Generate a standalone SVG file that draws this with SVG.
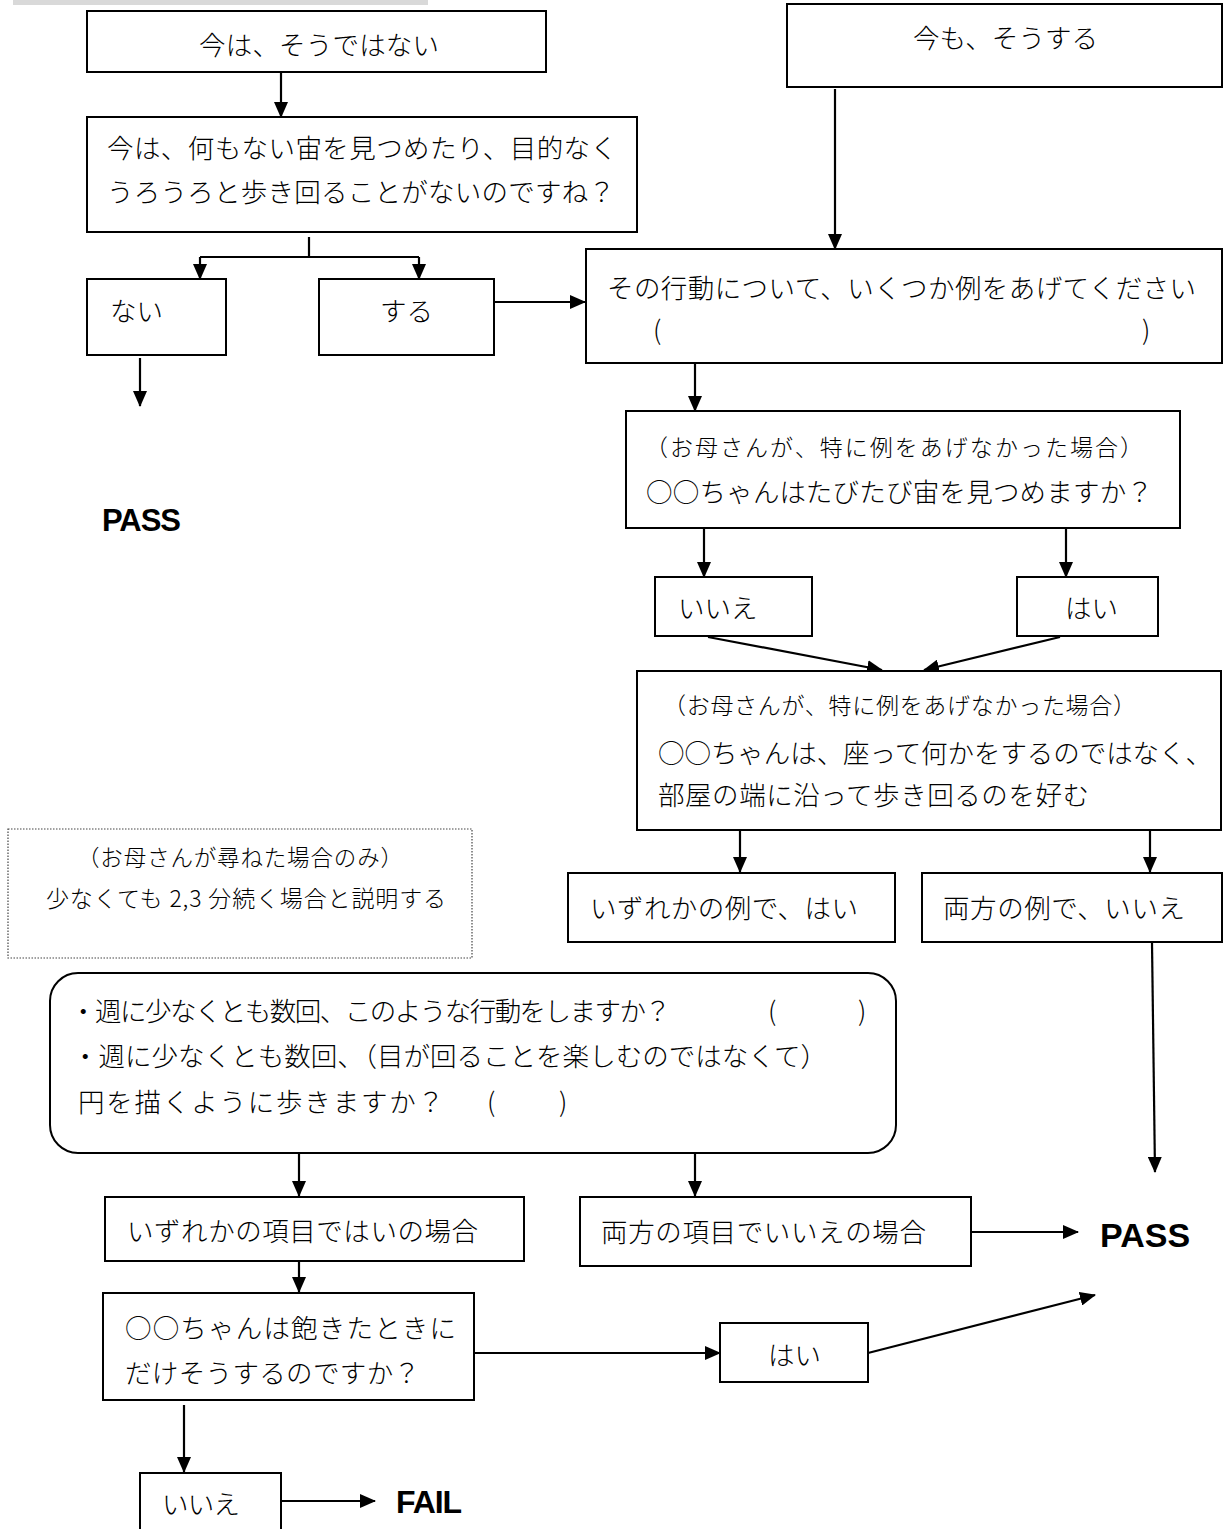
<svg xmlns="http://www.w3.org/2000/svg" width="1224" height="1529" viewBox="0 0 1224 1529">
<style>
  .box { fill: #fff; stroke: #000; stroke-width: 2; }
  .dot { fill: #fff; stroke: #444; stroke-width: 1.2; stroke-dasharray: 1.5 1.5; }
  .jp { font-family: "Noto Sans CJK JP", "Liberation Serif", sans-serif; font-size: 26.5px; fill: #000; font-weight: 300; }
  .sm { font-size: 23px; }
  .note1 { font-size: 22.5px; }
  .note2 { font-size: 23px; }
  .res { font-family: "Liberation Sans", Arial, sans-serif; font-weight: bold; fill: #000; }
  .ln { stroke: #000; stroke-width: 2.2; fill: none; }
  .ar { stroke: #000; stroke-width: 2.2; fill: none; marker-end: url(#ah); }
</style>
<defs>
  <marker id="ah" markerUnits="userSpaceOnUse" markerWidth="16" markerHeight="14" refX="15" refY="7" orient="auto">
    <path d="M0,0 L16,7 L0,14 Z" fill="#000"/>
  </marker>
</defs>
<rect width="1224" height="1529" fill="#fff"/>
<rect x="13" y="0" width="415" height="5" fill="#d9d9d9"/>

<g id="connectors">
  <line class="ar" x1="281" y1="73" x2="281" y2="117"/>
  <polyline class="ln" points="309,237 309,257"/>
  <polyline class="ln" points="200,257 419,257"/>
  <line class="ar" x1="200" y1="257" x2="200" y2="279"/>
  <line class="ar" x1="419" y1="257" x2="419" y2="279"/>
  <line class="ar" x1="494" y1="302" x2="585" y2="302"/>
  <line class="ar" x1="140" y1="358" x2="140" y2="406"/>
  <line class="ar" x1="835" y1="89" x2="835" y2="249"/>
  <line class="ar" x1="695" y1="364" x2="695" y2="411"/>
  <line class="ar" x1="704" y1="529" x2="704" y2="577"/>
  <line class="ar" x1="1066" y1="529" x2="1066" y2="577"/>
  <line class="ar" x1="708" y1="637" x2="882" y2="670"/>
  <line class="ar" x1="1060" y1="637" x2="924" y2="670"/>
  <line class="ar" x1="740" y1="831" x2="740" y2="872"/>
  <line class="ar" x1="1150" y1="831" x2="1150" y2="872"/>
  <line class="ar" x1="1152" y1="943" x2="1155" y2="1172"/>
  <line class="ar" x1="299" y1="1154" x2="299" y2="1196"/>
  <line class="ar" x1="695" y1="1154" x2="695" y2="1196"/>
  <line class="ar" x1="971" y1="1232" x2="1078" y2="1232"/>
  <line class="ar" x1="299" y1="1262" x2="299" y2="1292"/>
  <line class="ar" x1="474" y1="1353" x2="720" y2="1353"/>
  <line class="ar" x1="868" y1="1353" x2="1095" y2="1295"/>
  <line class="ar" x1="184" y1="1405" x2="184" y2="1472"/>
  <line class="ar" x1="281" y1="1501" x2="375" y2="1501"/>
</g>

<g id="n_not_now">
  <rect class="box" x="87" y="11" width="459" height="61"/>
  <text class="jp" x="199" y="55" textLength="240">今は、そうではない</text>
</g>
<g id="n_confirm">
  <rect class="box" x="87" y="117" width="550" height="115"/>
  <text class="jp" x="107" y="158" textLength="510">今は、何もない宙を見つめたり、目的なく</text>
  <text class="jp" x="107" y="202" textLength="508">うろうろと歩き回ることがないのですね？</text>
</g>
<g id="n_nai">
  <rect class="box" x="87" y="279" width="139" height="76"/>
  <text class="jp" x="110" y="321">ない</text>
</g>
<g id="n_suru">
  <rect class="box" x="319" y="279" width="175" height="76"/>
  <text class="jp" x="380" y="321">する</text>
</g>
<g id="pass_left">
  <text class="res" x="102" y="531" font-size="31" textLength="79">PASS</text>
</g>
<g id="n_still">
  <rect class="box" x="787" y="4" width="435" height="83"/>
  <text class="jp" x="913" y="48" textLength="185">今も、そうする</text>
</g>
<g id="n_examples">
  <rect class="box" x="586" y="249" width="636" height="114"/>
  <text class="jp" x="607" y="298" textLength="589">その行動について、いくつか例をあげてください</text>
  <text class="jp" x="653" y="340">(</text>
  <text class="jp" x="1142" y="340">)</text>
</g>
<g id="n_q_stare">
  <rect class="box" x="626" y="411" width="554" height="117"/>
  <text class="jp sm" x="645" y="456" textLength="498">（お母さんが、特に例をあげなかった場合）</text>
  <text class="jp" x="646" y="502" textLength="507">○○ちゃんはたびたび宙を見つめますか？</text>
</g>
<g id="n_iie1">
  <rect class="box" x="655" y="577" width="157" height="59"/>
  <text class="jp" x="678" y="618">いいえ</text>
</g>
<g id="n_hai1">
  <rect class="box" x="1017" y="577" width="141" height="59"/>
  <text class="jp" x="1065" y="618">はい</text>
</g>
<g id="n_q_walk">
  <rect class="box" x="637" y="671" width="584" height="159"/>
  <text class="jp sm" x="663" y="714" textLength="473">（お母さんが、特に例をあげなかった場合）</text>
  <text class="jp" x="658" y="763" textLength="554">○○ちゃんは、座って何かをするのではなく、</text>
  <text class="jp" x="658" y="805" textLength="431">部屋の端に沿って歩き回るのを好む</text>
</g>
<g id="n_any_yes">
  <rect class="box" x="568" y="873" width="327" height="69"/>
  <text class="jp" x="590" y="918" textLength="268">いずれかの例で、はい</text>
</g>
<g id="n_both_no">
  <rect class="box" x="922" y="873" width="300" height="69"/>
  <text class="jp" x="943" y="918" textLength="242">両方の例で、いいえ</text>
</g>
<g id="n_note">
  <rect class="dot" x="8" y="829" width="464" height="129"/>
  <text class="jp note1" x="77" y="866" textLength="326">（お母さんが尋ねた場合のみ）</text>
  <text class="jp note2" x="46" y="907" textLength="400">少なくても 2,3 分続く場合と説明する</text>
</g>
<g id="n_weekly">
  <rect class="box" x="50" y="973" width="846" height="180" rx="28" ry="28"/>
  <text class="jp" x="70" y="1021" textLength="601">・週に少なくとも数回、このような行動をしますか？</text>
  <text class="jp" x="768" y="1021">(</text>
  <text class="jp" x="858" y="1021">)</text>
  <text class="jp" x="72" y="1066" textLength="755">・週に少なくとも数回、（目が回ることを楽しむのではなくて）</text>
  <text class="jp" x="78" y="1112" textLength="366">円を描くように歩きますか？</text>
  <text class="jp" x="487" y="1112">(</text>
  <text class="jp" x="559" y="1112">)</text>
</g>
<g id="n_item_yes">
  <rect class="box" x="105" y="1197" width="419" height="64"/>
  <text class="jp" x="127" y="1241" textLength="351">いずれかの項目ではいの場合</text>
</g>
<g id="n_item_no">
  <rect class="box" x="580" y="1197" width="391" height="69"/>
  <text class="jp" x="601" y="1242" textLength="325">両方の項目でいいえの場合</text>
</g>
<g id="pass_right">
  <text class="res" x="1100" y="1247" font-size="34">PASS</text>
</g>
<g id="n_bored">
  <rect class="box" x="103" y="1293" width="371" height="107"/>
  <text class="jp" x="125" y="1338" textLength="331">○○ちゃんは飽きたときに</text>
  <text class="jp" x="125" y="1383" textLength="295">だけそうするのですか？</text>
</g>
<g id="n_hai2">
  <rect class="box" x="720" y="1323" width="148" height="59"/>
  <text class="jp" x="768" y="1365">はい</text>
</g>
<g id="n_iie2">
  <rect class="box" x="140" y="1473" width="141" height="70"/>
  <text class="jp" x="162" y="1514" textLength="78">いいえ</text>
</g>
<g id="fail">
  <text class="res" x="396" y="1513" font-size="32" textLength="66">FAIL</text>
</g>
</svg>
